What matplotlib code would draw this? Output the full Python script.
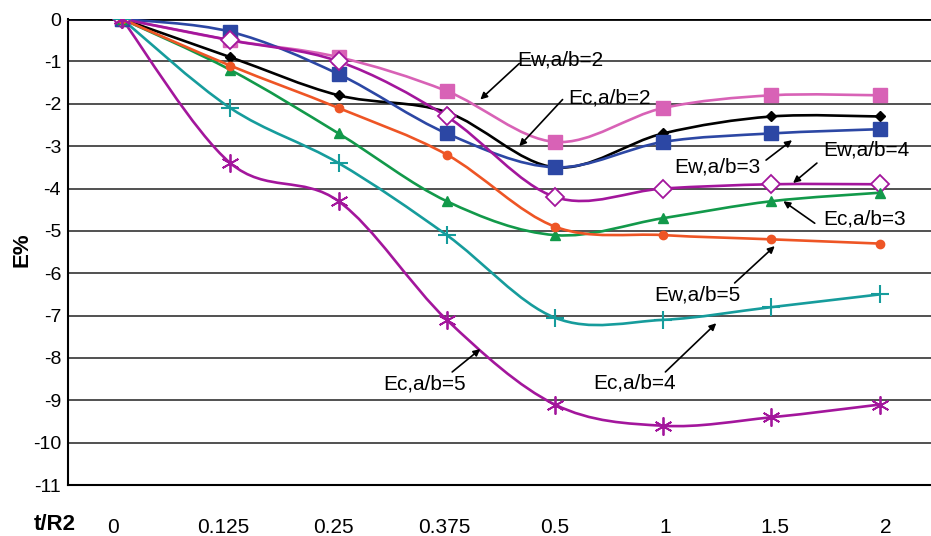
import numpy as np
import matplotlib.pyplot as plt
from matplotlib.path import Path
from matplotlib.patches import PathPatch

plt.rcParams['font.family'] = ['Liberation Sans', 'DejaVu Sans']

# Categories on the x axis (evenly spaced)
t_labels = ['0', '0.125', '0.25', '0.375', '0.5', '1', '1.5', '2']

# Series values (E%)
ew_2 = [0, -0.5, -0.9, -1.7, -2.9, -2.1, -1.8, -1.8]
ec_2 = [0, -0.9, -1.8, -2.2, -3.5, -2.7, -2.3, -2.3]
ew_3 = [0, -0.3, -1.3, -2.7, -3.5, -2.9, -2.7, -2.6]
ew_4 = [0, -0.5, -1.0, -2.3, -4.2, -4.0, -3.9, -3.9]
ec_3 = [0, -1.2, -2.7, -4.3, -5.1, -4.7, -4.3, -4.1]
ew_5 = [0, -1.1, -2.1, -3.2, -4.9, -5.1, -5.2, -5.3]
ec_4 = [0, -2.1, -3.4, -5.1, -7.05, -7.1, -6.8, -6.5]
ec_5 = [0, -3.4, -4.3, -7.1, -9.1, -9.6, -9.4, -9.1]

series = [
    (ew_2, '#D862B6', dict(marker='s', ms=10)),
    (ec_2, '#000000', dict(marker='D', ms=5)),
    (ew_3, '#2C47A4', dict(marker='s', ms=10)),
    (ew_4, '#A3169C', dict(marker='D', ms=9, mfc='white', mew=1.3)),
    (ec_3, '#12994A', dict(marker='^', ms=7)),
    (ew_5, '#EE5525', dict(marker='o', ms=6)),
    (ec_4, '#169C9C', dict(marker='+', ms=13, mew=1.5)),
    (ec_5, '#A3169C', dict(marker=(6, 2, 0), ms=13, mew=1.3)),
]

# (label, text position, arrow start, arrow tip) in category/value units
notes = [
    ('Ew,a/b=2', (3.65, -0.97), (3.67, -1.05), (3.31, -1.9)),
    ('Ec,a/b=2', (4.12, -1.87), (4.07, -1.9), (3.67, -3.0)),
    ('Ew,a/b=3', (5.10, -3.5), (5.95, -3.33), (6.19, -2.86)),
    ('Ew,a/b=4', (6.48, -3.1), (6.42, -3.4), (6.20, -3.87)),
    ('Ec,a/b=3', (6.48, -4.72), (6.40, -4.82), (6.11, -4.3)),
    ('Ew,a/b=5', (4.92, -6.52), (5.66, -6.23), (6.03, -5.36)),
    ('Ec,a/b=4', (4.35, -8.59), (5.02, -8.33), (5.49, -7.18)),
    ('Ec,a/b=5', (2.41, -8.62), (3.05, -8.33), (3.31, -7.79)),
]


def smooth_path(x, y):
    # Catmull-Rom style bezier through the points (like Excel's smoothed line)
    pts = np.column_stack([x, y]).astype(float)
    ext = np.vstack([pts[0], pts, pts[-1]])
    verts = [pts[0]]
    codes = [Path.MOVETO]
    for i in range(len(pts) - 1):
        p0, p1, p2, p3 = ext[i], ext[i + 1], ext[i + 2], ext[i + 3]
        verts += [p1 + (p2 - p0) / 6, p2 - (p3 - p1) / 6, p2]
        codes += [Path.CURVE4] * 3
    return Path(verts, codes)


fig = plt.figure(figsize=(9.31, 5.36), dpi=100)
ax = fig.add_axes([0.073, 0.095, 0.930, 0.8695])

xi = np.arange(len(t_labels))
for vals, color, mk in series:
    ax.add_patch(PathPatch(smooth_path(xi, vals), fill=False, edgecolor=color,
                           lw=1.9, zorder=3))
    ax.plot(xi, vals, linestyle='none', color=color, zorder=4, **mk)

for label, txy, start, tip in notes:
    ax.text(txy[0], txy[1], label, fontsize=15, ha='left', va='center', zorder=5)
    ax.annotate('', xy=tip, xytext=start,
                arrowprops=dict(arrowstyle='-|>', color='black', lw=1.2,
                                mutation_scale=10, shrinkA=0, shrinkB=0),
                zorder=5)

ax.set_xlim(-0.5, 7.5)
ax.set_ylim(-11, 0)
ax.set_yticks(range(0, -12, -1))
ax.set_yticklabels([str(v) for v in range(0, -12, -1)], fontsize=14)
ax.set_xticks([])
ax.tick_params(axis='y', length=0, pad=5)

# the category labels sit in a row under the plot, spaced a little wider
lab = ax.twiny()
lab.set_xlim(-0.408, 7.436)
lab.xaxis.set_ticks_position('bottom')
lab.set_xticks(xi)
lab.set_xticklabels(t_labels, fontsize=15)
lab.tick_params(axis='x', length=0, pad=24)
for s in lab.spines.values():
    s.set_visible(False)

ax.yaxis.grid(True, color='#333333', lw=1.2)
ax.set_axisbelow(True)
for side in ['top', 'right']:
    ax.spines[side].set_visible(False)
ax.spines['left'].set_linewidth(1.5)
ax.spines['bottom'].set_linewidth(1.5)
ax.axhline(0, color='black', lw=2, zorder=2)

fig.text(0.0236, 0.534, 'E%', rotation=90, fontsize=16, fontweight='bold',
         ha='center', va='center')
fig.text(0.059, 0.022, 't/R2', fontsize=16, fontweight='bold', ha='center',
         va='center')

fig.savefig('out.png', dpi=100)
